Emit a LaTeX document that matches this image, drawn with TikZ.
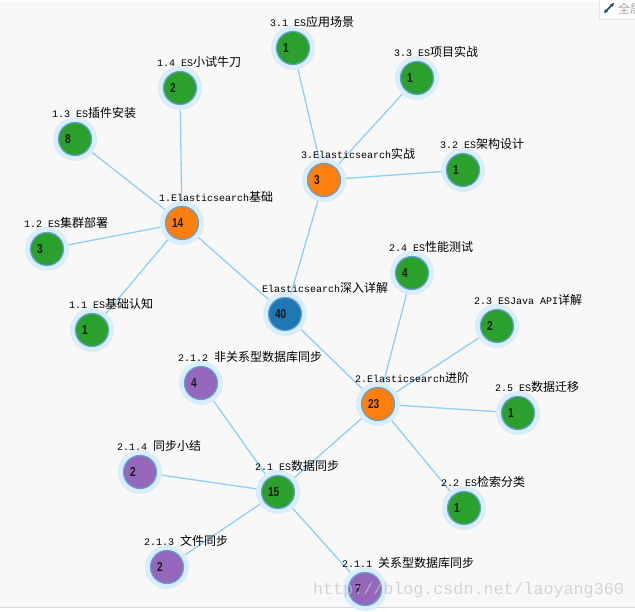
\documentclass[tikz,border=0pt]{standalone}
\usepackage{fontspec}
\setmonofont{Liberation Mono}
\newfontfamily\cjkfont{Noto Sans CJK SC}
\newfontfamily\numfamily[FakeStretch=0.78]{Liberation Sans}
\usepackage{tikz}
\usetikzlibrary{positioning}
\usetikzlibrary{arrows.meta}
\usepackage{xcolor}

\definecolor{esblue}{HTML}{1F77B4}
\definecolor{esorange}{HTML}{FF7F0E}
\definecolor{esgreen}{HTML}{2CA02C}
\definecolor{espurple}{HTML}{9467BD}
\definecolor{ring}{HTML}{5FA0D8}
\definecolor{halo}{HTML}{DAEDFB}
\definecolor{linkblue}{HTML}{8ED0FA}
\definecolor{canvas}{HTML}{F8F8F8}

\pgfdeclarelayer{back}
\pgfdeclarelayer{links}
\pgfsetlayers{back,links,main}

\newcommand\tagtext[2]{{\ttfamily\fontsize{10}{12}\selectfont #1}{\cjkfont\fontsize{12}{12}\selectfont #2}}

\begin{document}
\begin{tikzpicture}[x=1pt, y=-1pt,
  topic/.style = {circle, draw=ring, line width=1.2pt, minimum size=33pt, inner sep=0pt,
    text width=20pt, align=left, text=black!90,
    font=\numfamily\bfseries\fontsize{13}{13}\selectfont,
    preaction={draw=halo, line width=11pt}},
  root/.style = {topic, fill=esblue},
  lead/.style = {topic, fill=esorange},
  leaf/.style = {topic, fill=esgreen},
  sub/.style = {topic, fill=espurple},
  tag/.style = {anchor=base west, xshift=-23pt, yshift=22pt, inner sep=0pt},
  link/.style = {draw=linkblue, line width=1.3pt}]
\useasboundingbox (0,0) rectangle (635,611);
\begin{pgfonlayer}{back}
\fill[white] (0,0) rectangle (635,611);
\fill[canvas] (0,2) rectangle (635,607);
\draw[gray!30, line width=1pt] (0,607) -- (635,607);
\end{pgfonlayer}

% root
\node[root] (root) at (285,314) {40};
\node[tag] (troot) at (root) {\tagtext{Elasticsearch}{深入详解}};

% 1. basics
\node[lead] (n1) at (182,223) {14};
\node[tag] (t1) at (n1) {\tagtext{1.Elasticsearch}{基础}};
\node[leaf] (n11) at (92,330) {1};
\node[tag] (t11) at (n11) {\tagtext{1.1 ES}{基础认知}};
\node[leaf] (n12) at (47,249) {3};
\node[tag] (t12) at (n12) {\tagtext{1.2 ES}{集群部署}};
\node[leaf] (n13) at (75,139) {8};
\node[tag] (t13) at (n13) {\tagtext{1.3 ES}{插件安装}};
\node[leaf] (n14) at (180,88) {2};
\node[tag] (t14) at (n14) {\tagtext{1.4 ES}{小试牛刀}};

% 3. practice
\node[lead] (n3) at (324,180) {3};
\node[tag] (t3) at (n3) {\tagtext{3.Elasticsearch}{实战}};
\node[leaf] (n31) at (293,48) {1};
\node[tag] (t31) at (n31) {\tagtext{3.1 ES}{应用场景}};
\node[leaf] (n32) at (463,170) {1};
\node[tag] (t32) at (n32) {\tagtext{3.2 ES}{架构设计}};
\node[leaf] (n33) at (417,78) {1};
\node[tag] (t33) at (n33) {\tagtext{3.3 ES}{项目实战}};

% 2. advanced
\node[lead] (n2) at (378,404) {23};
\node[tag] (t2) at (n2) {\tagtext{2.Elasticsearch}{进阶}};
\node[leaf] (n21) at (278,492) {15};
\node[tag] (t21) at (n21) {\tagtext{2.1 ES}{数据同步}};
\node[leaf] (n22) at (464,508) {1};
\node[tag] (t22) at (n22) {\tagtext{2.2 ES}{检索分类}};
\node[leaf] (n23) at (497,326) {2};
\node[tag] (t23) at (n23) {\tagtext{2.3 ESJava API}{详解}};
\node[leaf] (n24) at (412,273) {4};
\node[tag] (t24) at (n24) {\tagtext{2.4 ES}{性能测试}};
\node[leaf] (n25) at (518,413) {1};
\node[tag] (t25) at (n25) {\tagtext{2.5 ES}{数据迁移}};

% 2.1 sync
\node[sub] (n211) at (365,589) {7};
\node[tag] (t211) at (n211) {\tagtext{2.1.1 }{关系型数据库同步}};
\node[sub] (n212) at (201,383) {4};
\node[tag] (t212) at (n212) {\tagtext{2.1.2 }{非关系型数据库同步}};
\node[sub] (n213) at (167,567) {2};
\node[tag] (t213) at (n213) {\tagtext{2.1.3 }{文件同步}};
\node[sub] (n214) at (140,472) {2};
\node[tag] (t214) at (n214) {\tagtext{2.1.4 }{同步小结}};

\begin{pgfonlayer}{links}
\path (root) edge [link] (n1);
\path (root) edge [link] (n2);
\path (root) edge [link] (n3);
\path (n1) edge [link] (n11);
\path (n1) edge [link] (n12);
\path (n1) edge [link] (n13);
\path (n1) edge [link] (n14);
\path (n3) edge [link] (n31);
\path (n3) edge [link] (n32);
\path (n3) edge [link] (n33);
\path (n2) edge [link] (n21);
\path (n2) edge [link] (n22);
\path (n2) edge [link] (n23);
\path (n2) edge [link] (n24);
\path (n2) edge [link] (n25);
\path (n21) edge [link] (n211);
\path (n21) edge [link] (n212);
\path (n21) edge [link] (n213);
\path (n21) edge [link] (n214);
\end{pgfonlayer}

% watermark and full-screen button
\node[anchor=west, inner sep=0pt, text=gray!45, opacity=0.7,
  font=\ttfamily\fontsize{16.7}{18}\selectfont] (wm) at (313,590) {http://blog.csdn.net/laoyang360};
\draw[gray!20, fill=white] (599,-1) rectangle (640,19);
\coordinate (iconA) at (604,13);
\coordinate (iconB) at (614,3);
\draw[{Stealth[length=4pt,width=4pt]}-{Stealth[length=4pt,width=4pt]}, line width=1.5pt, draw=esblue!60!black] (iconA) -- (iconB);
\node[anchor=west, inner sep=0pt, text=gray!70, font=\cjkfont\fontsize{12}{12}\selectfont] (full) at (618,9) {全屏};
\end{tikzpicture}
\end{document}
